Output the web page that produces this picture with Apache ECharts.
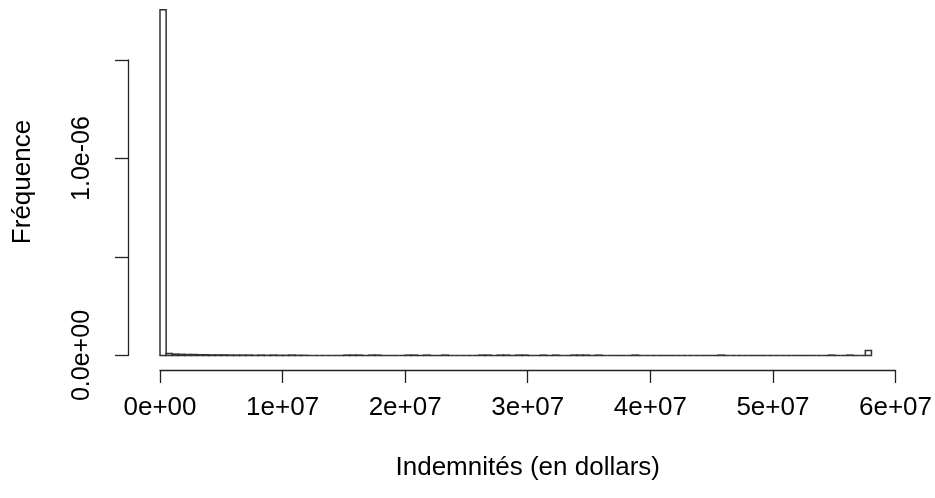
<!DOCTYPE html>
<html>
<head>
<meta charset="utf-8">
<script src="https://cdn.jsdelivr.net/npm/echarts@6/dist/echarts.min.js"></script>
<style>
  html, body { margin: 0; padding: 0; background: #ffffff; }
  #chart { width: 935px; height: 498px; }
</style>
</head>
<body>
<div id="chart"></div>
<script>
// Histogram of claim amounts (density scale), bins of 500 000 dollars.
const binWidth = 500000;

// Density of each bin, in units of 1e-9 (116 bins from 0 to 5.8e7)
const densityE9 = [
  1756, 10, 7, 6, 5, 5, 4, 4, 3, 3,
  3, 2, 2, 2, 2, 1, 2, 1, 2, 1,
  1, 2, 1, 1, 0, 0, 0, 0, 0, 0,
  2, 2, 2, 0, 2, 2, 0, 0, 0, 0,
  2, 2, 0, 2, 0, 0, 2, 0, 0, 0,
  0, 0, 2, 2, 0, 2, 2, 0, 2, 2,
  0, 0, 2, 0, 2, 0, 0, 2, 2, 2,
  0, 2, 0, 0, 0, 0, 0, 2, 0, 0,
  0, 0, 0, 0, 0, 0, 0, 0, 0, 0,
  0, 2, 0, 0, 0, 0, 0, 0, 0, 0,
  0, 0, 0, 0, 0, 0, 0, 0, 0, 2,
  0, 0, 2, 0, 0, 25
];

const xTicks = [0, 1e7, 2e7, 3e7, 4e7, 5e7, 6e7];
const xTickLabels = ['0e+00', '1e+07', '2e+07', '3e+07', '4e+07', '5e+07', '6e+07'];
const yTicks = [0, 5e-7, 1e-6, 1.5e-6];
const yTickLabels = ['0.0e+00', '', '1.0e-06', ''];

const xTitle = 'Indemnités (en dollars)';
const yTitle = 'Fréquence';

// [start, end, density] for every bin
const bins = densityE9.map((d, i) => [i * binWidth, (i + 1) * binWidth, d * 1e-9]);

const FONT = 'Liberation Sans, Arial, Helvetica, sans-serif';
const FS = 26;
const INK = '#222';

const chart = echarts.init(document.getElementById('chart'), null, { renderer: 'canvas' });

function labelFor(ticks, labels) {
  return function (v) {
    for (let i = 0; i < ticks.length; i++) {
      if (Math.abs(v - ticks[i]) <= Math.abs(ticks[ticks.length - 1]) * 1e-6) return labels[i];
    }
    return '';
  };
}

chart.setOption({
  animation: false,
  backgroundColor: '#ffffff',
  grid: [
    // plotting region for the bars
    { left: 160, right: 39, top: 1, bottom: 142.5 },
    // vertical axis, set apart to the left of the bars (0 to 1.5e-6)
    { left: 128, right: 39, top: 60, bottom: 142.5 },
    // horizontal axis, set apart below the bars
    { left: 160, right: 39, top: 60, bottom: 128 }
  ],
  xAxis: [
    { gridIndex: 0, type: 'value', min: 0, max: 6e7, show: false },
    { gridIndex: 1, type: 'value', min: 0, max: 6e7, show: false },
    {
      gridIndex: 2, type: 'value', min: 0, max: 6e7, interval: 1e7,
      name: xTitle, nameLocation: 'middle', nameGap: 85,
      nameTextStyle: { fontFamily: FONT, fontSize: FS, color: '#000' },
      axisLine: { show: true, onZero: false, lineStyle: { color: INK, width: 1.3 } },
      axisTick: { show: true, length: 13, lineStyle: { color: INK, width: 1.3 } },
      axisLabel: { show: true, margin: 25, fontFamily: FONT, fontSize: FS, color: '#000',
                   showMinLabel: true, showMaxLabel: true,
                   formatter: labelFor(xTicks, xTickLabels) },
      splitLine: { show: false }
    }
  ],
  yAxis: [
    { gridIndex: 0, type: 'value', min: 0, max: 1.8e-6, show: false },
    {
      gridIndex: 1, type: 'value', min: 0, max: 1.5e-6, interval: 5e-7,
      axisLine: { show: true, onZero: false, lineStyle: { color: INK, width: 1.3 } },
      axisTick: { show: true, length: 13, lineStyle: { color: INK, width: 1.3 } },
      axisLabel: { show: true, rotate: 90, margin: 33, fontFamily: FONT, fontSize: 25, color: '#000',
                   showMinLabel: true, showMaxLabel: true,
                   formatter: labelFor(yTicks, yTickLabels) },
      splitLine: { show: false }
    },
    { gridIndex: 2, type: 'value', min: 0, max: 1, show: false }
  ],
  graphic: [
    {
      type: 'text', x: 23, y: 182, rotation: Math.PI / 2,
      style: { text: yTitle, fontFamily: FONT, fontSize: FS, fill: '#000',
               textAlign: 'center', textVerticalAlign: 'middle' }
    }
  ],
  series: [
    {
      type: 'custom',
      xAxisIndex: 0, yAxisIndex: 0,
      data: bins,
      renderItem: function (params, api) {
        const top = api.coord([api.value(0), api.value(2)]);
        const bottom = api.coord([api.value(1), 0]);
        return {
          type: 'rect',
          shape: { x: top[0], y: top[1], width: bottom[0] - top[0], height: bottom[1] - top[1] },
          style: { fill: '#ffffff', stroke: '#333', lineWidth: 1.5 }
        };
      }
    }
  ]
});
</script>
</body>
</html>
